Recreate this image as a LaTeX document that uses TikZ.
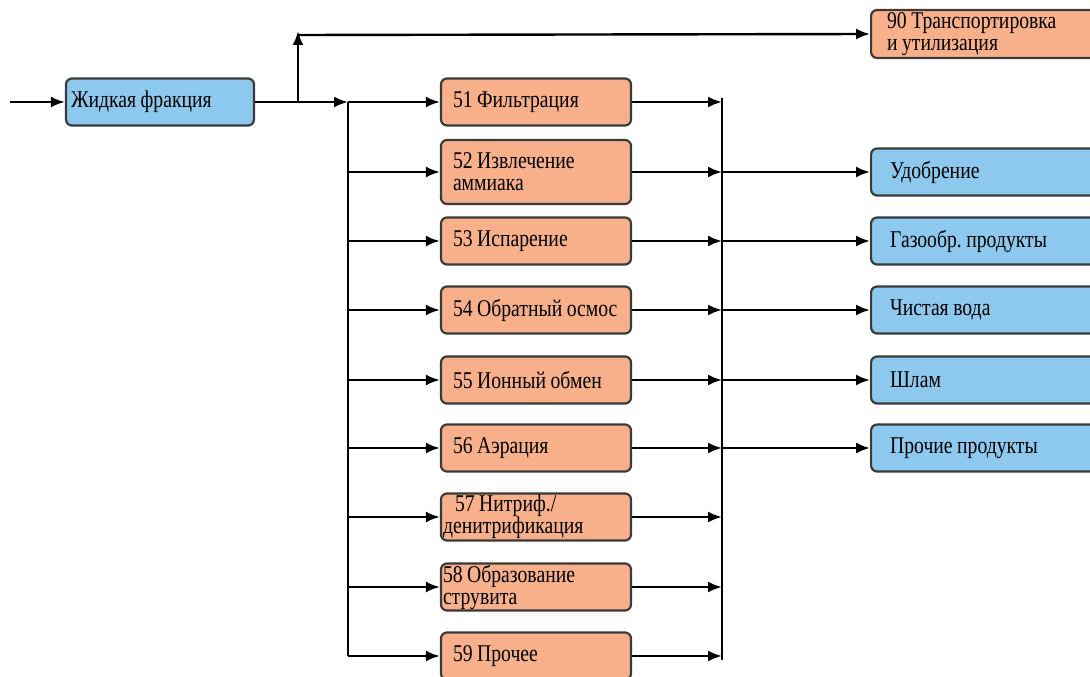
\documentclass[tikz,border=0pt]{standalone}
\usepackage{fontspec}
\setmainfont[FakeStretch=0.82]{Liberation Serif}
\usetikzlibrary{arrows.meta}
\newcommand{\ws}{\nobreak\hspace{4.5pt}\nobreak}
\definecolor{boxline}{HTML}{3A3A3A}
\definecolor{ofill}{HTML}{F7B08A}
\definecolor{bfill}{HTML}{8DC9EE}
\tikzset{
  base/.style={draw=boxline, line width=2.2pt, rounded corners=6pt, minimum height=47pt,
    align=left, font=\fontsize{24}{22}\selectfont, inner ysep=1pt},
  obox/.style={base, fill=ofill, text width=166pt, inner xsep=12pt, minimum width=190pt},
  bbox/.style={base, fill=bfill, text width=200pt, inner xsep=19pt, minimum width=238pt, anchor=west},
  lbox/.style={base, fill=bfill, text width=178pt, inner xsep=5pt, minimum width=188pt},
  arr/.style={line width=2.4pt, -{Latex[length=14pt,width=11pt]}},
  ln/.style={line width=2.4pt}
}
\begin{document}
\begin{tikzpicture}[x=1pt,y=-1pt]
\clip (0,0) rectangle (1090,677);
\fill[white] (0,0) rectangle (1090,677);
% input
\node[lbox] (liq) at (160,102) {Жидкая\ws фракция};
\coordinate (in) at (10,102);
\draw[arr] (in) -- (liq.west);
% top branch
\coordinate (split) at (298,102);
\coordinate (up) at (298,31);
\coordinate (corner) at (298,35);
\node[obox, text width=200pt, inner xsep=10pt, minimum width=232pt, minimum height=48pt, anchor=west] (t90) at (870,34) {90\ws Транспортировка\\и\ws утилизация};
\draw[ln] (liq.east) -- (split);
\draw[arr] (split) -- (up);
\draw[arr] (corner) -- (t90.west);
% left bus
\coordinate (lbt) at (348,102);
\coordinate (lbb) at (348,656);
\draw[arr] (split) -- (lbt);
\draw[ln] (lbt) -- (lbb);
% process boxes
\node[obox] (p51) at (536,102) {51\ws Фильтрация};
\node[obox, minimum height=64pt] (p52) at (536,172) {52\ws Извлечение\\аммиака};
\node[obox] (p53) at (536,241) {53\ws Испарение};
\node[obox] (p54) at (536,310) {54\ws Обратный\ws осмос};
\node[obox] (p55) at (536,380) {55\ws Ионный\ws обмен};
\node[obox] (p56) at (536,448) {56\ws Аэрация};
\node[obox, inner xsep=2pt, text width=186pt] (p57) at (536,517) {\hspace{12pt}57\ws Нитриф./\\денитрификация};
\node[obox, inner xsep=2pt, text width=186pt] (p58) at (536,587) {58\ws Образование\\струвита};
\node[obox] (p59) at (536,656) {59\ws Прочее};
% right bus
\coordinate (rbt) at (722,98);
\coordinate (rbb) at (722,660);
\draw[ln] (rbt) -- (rbb);
\foreach \n/\y in {p51/102,p52/172,p53/241,p54/310,p55/380,p56/448,p57/517,p58/587,p59/656}{
  \coordinate (l\n) at (348,\y);
  \coordinate (r\n) at (722,\y);
  \draw[arr] (l\n) -- (\n.west);
  \draw[arr] (\n.east) -- (r\n);
}
% outputs
\node[bbox] (o1) at (870,172) {Удобрение};
\node[bbox] (o2) at (870,241) {Газообр.\ws продукты};
\node[bbox] (o3) at (870,310) {Чистая\ws вода};
\node[bbox] (o4) at (870,380) {Шлам};
\node[bbox] (o5) at (870,448) {Прочие\ws продукты};
\draw[arr] (rp52) -- (o1.west);
\draw[arr] (rp53) -- (o2.west);
\draw[arr] (rp54) -- (o3.west);
\draw[arr] (rp55) -- (o4.west);
\draw[arr] (rp56) -- (o5.west);
\end{tikzpicture}
\end{document}
